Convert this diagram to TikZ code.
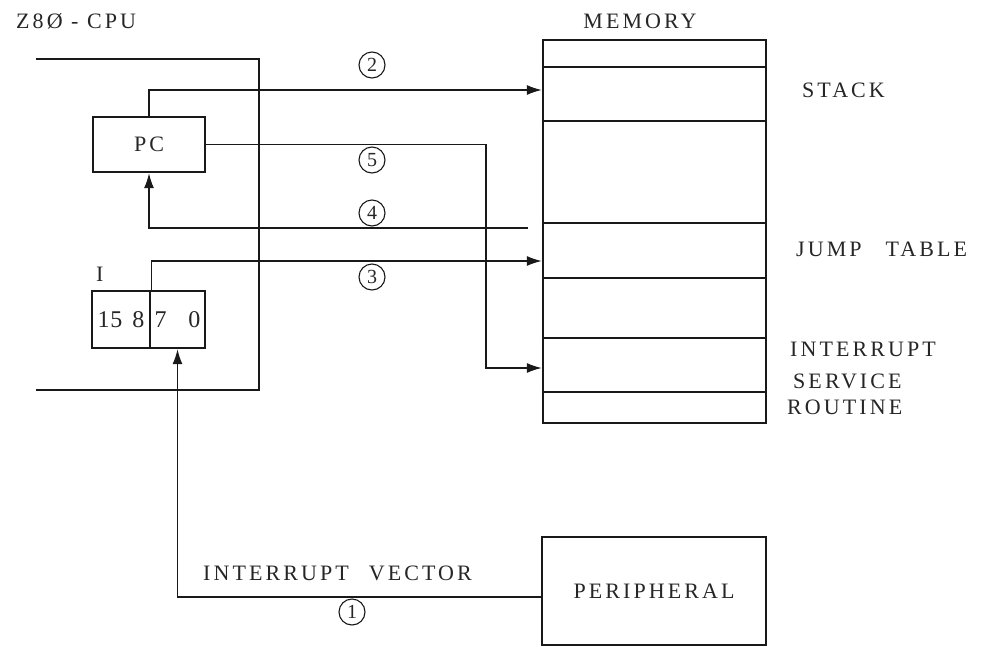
\documentclass[tikz,border=0pt]{standalone}
\usepackage{fontspec}
\setmainfont{Liberation Serif}
\newfontfamily\tw[LetterSpace=14]{Liberation Serif}
\usetikzlibrary{arrows.meta}
\begin{document}
\begin{tikzpicture}[x=1pt,y=-1pt,
  lbl/.style={font=\tw\fontsize{22}{24}\selectfont, inner sep=0pt, text=black!85},
  box/.style={draw=black!90, line width=2.4pt, inner sep=0pt},
  conn/.style={draw=black!90, line width=1.3pt},
  arr/.style={conn, -{Latex[length=15pt,width=10pt]}},
  num/.style={circle, draw=black!90, line width=1.1pt, minimum size=26pt, inner sep=0pt, text=black!85, font=\fontsize{20}{20}\selectfont}
]
\useasboundingbox (0,0) rectangle (988,646);
% CPU outline
\draw[draw=black!90, line width=2.6pt] (36,59) -- (259,59) -- (259,390) -- (36,390);
% titles
\node[lbl, anchor=west] (title) at (16,21) {Z8Ø - CPU};
\node[lbl] (memtitle) at (640,21) {MEMORY};
% PC
\node[box, lbl, draw=black!90, minimum width=112pt, minimum height=55pt] (pc) at (149,144.5) {PC};
% I register
\node[lbl, anchor=south west] (ilbl) at (96,282) {I};
\node[box, minimum width=58pt, minimum height=57pt, font=\tw\fontsize{24}{24}\selectfont, text=black!85] (ihi) at (121,319.5) {1\kern1pt5\hspace{10pt}8};
\node[box, minimum width=55pt, minimum height=57pt, font=\tw\fontsize{24}{24}\selectfont, text=black!85] (ilo) at (177.5,319.5) {7\hspace{22pt}0};
% memory
\node[box, minimum width=223pt, minimum height=383pt] (mem) at (654.5,231.5) {};
\foreach \yy in {67,121,223,278,338,392}
  \draw[draw=black!90, line width=2.2pt] (mem.west |- 0,\yy) -- (mem.east |- 0,\yy);
% memory labels
\node[lbl, anchor=west] (stack) at (802,90) {STACK};
\node[lbl, anchor=west] (jump) at (796,249) {JUMP\hspace{24pt}TABLE};
\node[lbl, anchor=west] (isr1) at (790,349) {INTERRUPT};
\node[lbl, anchor=west] (isr2) at (793,381) {SERVICE};
\node[lbl, anchor=west] (isr3) at (787,407) {ROUTINE};
% peripheral
\node[box, lbl, minimum width=224pt, minimum height=108pt] (per) at (654,591) {PERIPHERAL};
\node[lbl, anchor=west] (ivec) at (203,573) {INTERRUPT\hspace{20pt}VECTOR};
% connectors
\draw[arr] (per.west |- 0,597) -| (ilo.south);
\draw[arr] (pc.north) |- (mem.west |- 0,90);
\draw[arr] (pc.east) -- (pc.east -| 486,0) |- (mem.west |- 0,368);
\coordinate (f4) at (528,228);
\draw[arr] (f4) -| (pc.south);
\draw[arr] (ihi.north east) |- (mem.west |- 0,261);
% step numbers
\node[num] (n2) at (372,65) {2};
\node[num] (n5) at (372,160) {5};
\node[num] (n4) at (372,213) {4};
\node[num] (n3) at (372,277) {3};
\node[num] (n1) at (352,612) {1};
\end{tikzpicture}
\end{document}
